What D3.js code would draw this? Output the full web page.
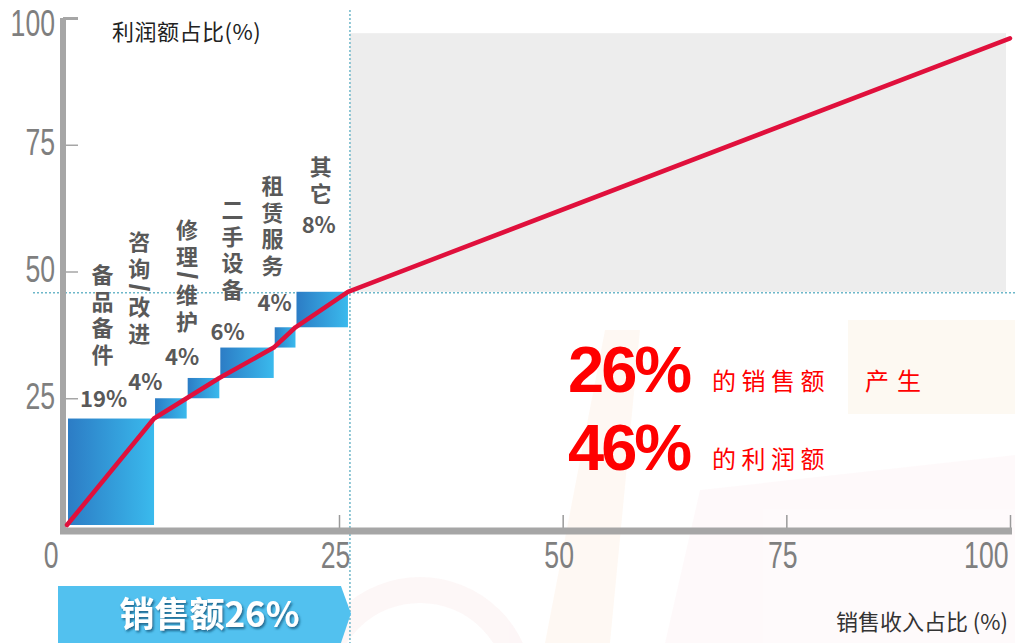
<!DOCTYPE html>
<html>
<head>
<meta charset="utf-8">
<script src="https://cdn.jsdelivr.net/npm/d3@7"></script>
<style>
  body { margin: 0; background: #fff; }
  svg { display: block; font-family: "Noto Sans CJK SC", "Liberation Sans", sans-serif; }
</style>
</head>
<body>
<svg id="chart" width="1015" height="643"></svg>
<script>
// business lines, left to right
const categories = ["备品备件", "咨询/改进", "修理/维护", "二手设备", "租赁服务", "其它"];
const profitLabels = ["19%", "4%", "4%", "6%", "4%", "8%"];
// share of sales (x) and share of profit (y) of each block
const salesShare = [8, 3, 3, 5, 2, 5];
const profitShare = [21, 4, 4, 6, 4, 7];
// where the curve ends and the top of the grey area
const curveEnd = [100, 96];
const greyTop = 97;
const xTicks = [0, 25, 50, 75, 100];
const yTicks = [25, 50, 75, 100];

// label nudges: [pct dx, pct dy above block top, name dx, name bottom above pct]
const labelOffset = [[-7, -19, -1, -45], [-25, -16, -6, -49], [-21, -21, 5, -36],
                     [-19, -15, 5, -43], [-10, -24, -2, -38], [-3, -67, 2, -32]];

const svg = d3.select("#chart");

// the left part of the sales axis is stretched in the original
const x = d3.scaleLinear().domain([0, 25, 100]).range([67, 339, 1010]);
const y = d3.scaleLinear().domain([0, 100]).range([525, 18]);

const defs = svg.append("defs");
const grad = defs.append("linearGradient").attr("id", "blockGrad");
grad.append("stop").attr("offset", "0%").attr("stop-color", "#2c7cc5");
grad.append("stop").attr("offset", "100%").attr("stop-color", "#3abaed");

const shadow = defs.append("filter").attr("id", "txtShadow")
  .attr("x", "-10%").attr("y", "-20%").attr("width", "130%").attr("height", "150%");
shadow.append("feDropShadow").attr("dx", 1.5).attr("dy", 2).attr("stdDeviation", 1.2)
  .attr("flood-color", "#0c4d70").attr("flood-opacity", 0.75);

// faint decoration in the background
const deco = svg.append("g").attr("opacity", 0.4);
deco.append("polygon").attr("points", "848,320 1015,320 1015,414 848,414").attr("fill", "#fbf1e0");
deco.append("polygon").attr("points", "605,330 640,330 610,643 545,643").attr("fill", "#fdeee2");
deco.append("polygon").attr("points", "700,490 1015,455 1015,643 665,643").attr("fill", "#fdf2f4");
deco.append("circle").attr("cx", 420).attr("cy", 690).attr("r", 100)
  .attr("fill", "none").attr("stroke", "#fbeaec").attr("stroke-width", 26);

// cumulative blocks
let cx = 0, cy = 0;
const points = [[0, 0]];
const blocks = categories.map((name, i) => {
  const b = { name: name, label: profitLabels[i], x0: cx, y0: cy,
              x1: cx + salesShare[i], y1: cy + profitShare[i] };
  cx = b.x1;
  cy = b.y1;
  points.push([cx, cy]);
  return b;
});
points.push(curveEnd);

// grey area right of the 26% line
svg.append("rect")
  .attr("x", x(cx) + 2)
  .attr("y", y(greyTop))
  .attr("width", x(100) - x(cx) - 6)
  .attr("height", y(cy) - y(greyTop))
  .attr("fill", "#ededed");

// dotted guide lines
svg.append("line")
  .attr("x1", x(cx) + 2).attr("x2", x(cx) + 2)
  .attr("y1", 10).attr("y2", 643)
  .attr("stroke", "#6db7c9").attr("stroke-width", 1.5).attr("stroke-dasharray", "2,2");
svg.append("line")
  .attr("x1", 33).attr("x2", 1015)
  .attr("y1", y(cy) + 1).attr("y2", y(cy) + 1)
  .attr("stroke", "#6db7c9").attr("stroke-width", 1.5).attr("stroke-dasharray", "2,2");

svg.selectAll(".block")
  .data(blocks)
  .enter()
  .append("rect")
  .attr("class", "block")
  .attr("x", (d) => x(d.x0) + 1)
  .attr("y", (d) => y(d.y1))
  .attr("width", (d) => x(d.x1) - x(d.x0) - 1)
  .attr("height", (d) => y(d.y0) - y(d.y1))
  .attr("fill", "url(#blockGrad)");

// axes
const yAxis = svg.append("g")
  .attr("transform", "translate(63,0)")
  .call(d3.axisLeft(y).tickValues(yTicks).tickSize(-15).tickPadding(8));
yAxis.select(".domain").remove();
yAxis.selectAll(".tick line")
  .attr("stroke", "#a6a6a6")
  .attr("stroke-width", (d) => (d === 100 ? 3 : 1.5));
yAxis.selectAll(".tick text")
  .attr("x", null)
  .attr("transform", (d) => "translate(-8," + (d === 100 ? 6 : -2) + ") scale(0.72,1)")
  .attr("fill", "#7f7f7f")
  .style("font-family", "'Liberation Sans', Arial, sans-serif")
  .style("font-size", "37px");

const xAxis = svg.append("g")
  .attr("transform", "translate(0,531)")
  .call(d3.axisBottom(x).tickValues(xTicks).tickSize(-16).tickPadding(11));
xAxis.select(".domain").remove();
xAxis.selectAll(".tick line")
  .attr("stroke", "#9a9a9a")
  .attr("stroke-width", 1.5)
  .attr("opacity", (d) => (d === 0 ? 0 : 1));
xAxis.selectAll(".tick text")
  .attr("fill", "#7f7f7f")
  .attr("text-anchor", (d) => (d === 0 || d === 100 ? "end" : "middle"))
  .attr("transform", (d) => {
    const dx = d === 0 ? -9 : d === 100 ? -2 : -4;
    return "translate(" + dx + ",0) scale(0.72,1)";
  })
  .style("font-family", "'Liberation Sans', Arial, sans-serif")
  .style("font-size", "37px");

svg.append("line")
  .attr("x1", 63).attr("x2", 63)
  .attr("y1", y(100)).attr("y2", 534)
  .attr("stroke", "#a6a6a6").attr("stroke-width", 6);
svg.append("line")
  .attr("x1", 60).attr("x2", x(100) + 2)
  .attr("y1", 531).attr("y2", 531)
  .attr("stroke", "#a6a6a6").attr("stroke-width", 7);

// cumulative profit curve
const line = d3.line()
  .x((d) => x(d[0]))
  .y((d) => y(d[1]));
svg.append("path")
  .datum(points)
  .attr("d", line)
  .attr("fill", "none")
  .attr("stroke", "#e0103c")
  .attr("stroke-width", 4.5)
  .attr("stroke-linecap", "round")
  .attr("stroke-linejoin", "round");

// block labels
blocks.forEach((b, i) => {
  const off = labelOffset[i];
  const px = (x(b.x0) + x(b.x1)) / 2 + off[0];
  const py = y(b.y1) + off[1];
  svg.append("text")
    .attr("x", px).attr("y", py)
    .attr("dy", "0.36em")
    .attr("text-anchor", "middle")
    .attr("fill", "#595959")
    .style("font-weight", "bold")
    .style("font-size", "22px")
    .text(b.label);

  // name written top to bottom, ending above the percentage
  const t = svg.append("text")
    .attr("x", px + off[2])
    .attr("y", py + off[3] + 11 + 4.5)
    .attr("text-anchor", "end")
    .attr("fill", "#595959")
    .style("writing-mode", "vertical-rl")
    .style("font-weight", "bold")
    .style("font-size", "22px")
    .style("letter-spacing", "4.5px");
  Array.from(b.name).forEach((c) => {
    const s = t.append("tspan").text(c);
    if (c === "/") s.style("font-size", "27px").style("font-family", "'Liberation Sans', sans-serif");
  });
});

// axis titles
svg.append("text")
  .attr("x", 112).attr("y", 40)
  .attr("fill", "#222")
  .style("font-size", "22px")
  .style("letter-spacing", "0.5px")
  .text("利润额占比(%)");
svg.append("text")
  .attr("x", 1008).attr("y", 630)
  .attr("text-anchor", "end")
  .attr("fill", "#333")
  .style("font-size", "22px")
  .text("销售收入占比 (%)");

// red statement
const big = [["26%", 392, "的销售额"], ["46%", 470, "的利润额"]];
big.forEach((r) => {
  svg.append("text")
    .attr("x", 568).attr("y", r[1])
    .attr("fill", "#ff0000")
    .style("font-family", "'Liberation Sans', Arial, sans-serif")
    .style("font-weight", "bold")
    .style("font-size", "65px")
    .style("letter-spacing", "-3px")
    .text(r[0]);
  svg.append("text")
    .attr("x", 712).attr("y", r[1] - 2)
    .attr("fill", "#ff0000")
    .style("font-size", "24px")
    .style("letter-spacing", "5.5px")
    .text(r[2]);
});
svg.append("text")
  .attr("x", 865).attr("y", 390)
  .attr("fill", "#ff0000")
  .style("font-size", "24px")
  .style("letter-spacing", "8px")
  .text("产生");

// banner arrow under the axis
const bx0 = 58, bx1 = x(cx) - 7, by0 = 586, by1 = 643;
svg.append("polygon")
  .attr("points", [[bx0, by0], [bx1, by0], [bx1 + 10, (by0 + by1) / 2 - 1], [bx1, by1], [bx0, by1]].join(" "))
  .attr("fill", "#52c1ef");
svg.append("text")
  .attr("x", (bx0 + bx1) / 2 + 10).attr("y", 627)
  .attr("text-anchor", "middle")
  .attr("fill", "#fff")
  .attr("filter", "url(#txtShadow)")
  .style("font-weight", "bold")
  .style("font-size", "35px")
  .text("销售额26%");
</script>
</body>
</html>
